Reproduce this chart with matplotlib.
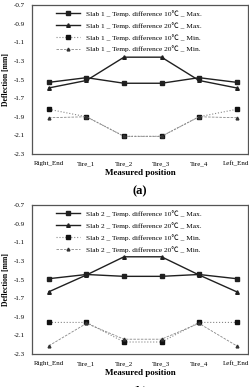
import matplotlib
matplotlib.use('Agg')
import matplotlib.pyplot as plt

plt.rcParams['font.family'] = ['Liberation Serif', 'Noto Sans CJK SC', 'DejaVu Serif']

positions = ['Right_End', 'Tire_1', 'Tire_2', 'Tire_3', 'Tire_4', 'Left_End']
yticks = [-0.7, -0.9, -1.1, -1.3, -1.5, -1.7, -1.9, -2.1, -2.3]

# Slab 1
slab1_10_max = [-1.53, -1.48, -1.54, -1.54, -1.48, -1.53]
slab1_20_max = [-1.59, -1.51, -1.26, -1.26, -1.51, -1.59]
slab1_10_min = [-1.82, -1.90, -2.11, -2.11, -1.90, -1.82]
slab1_20_min = [-1.91, -1.90, -2.11, -2.11, -1.90, -1.91]

# Slab 2
slab2_10_max = [-1.49, -1.445, -1.465, -1.465, -1.445, -1.49]
slab2_20_max = [-1.63, -1.45, -1.255, -1.255, -1.45, -1.63]
slab2_10_min = [-1.96, -1.96, -2.17, -2.17, -1.96, -1.96]
slab2_20_min = [-2.21, -1.97, -2.14, -2.14, -1.97, -2.21]

fig = plt.figure(figsize=(2.49, 3.87), dpi=100)


def drawPanel(ax, slab, s10max, s20max, s10min, s20min, tag):
    x = range(len(positions))
    ax.plot(x, s10max, color='#202020', lw=1.0, marker='s', ms=3.4,
            label=f'Slab {slab} _ Temp. difference 10\u2103 _ Max.')
    ax.plot(x, s20max, color='#202020', lw=1.0, marker='^', ms=2.6,
            label=f'Slab {slab} _ Temp. difference 20\u2103 _ Max.')
    ax.plot(x, s10min, color='#888888', lw=0.8, ls=':', marker='s', ms=3.2,
            mfc='#111111', mec='#111111',
            label=f'Slab {slab} _ Temp. difference 10\u2103 _ Min.')
    ax.plot(x, s20min, color='#888888', lw=0.6, ls=(0, (3, 1.5)), marker='^', ms=2.0,
            mfc='#333333', mec='#333333',
            label=f'Slab {slab} _ Temp. difference 20\u2103 _ Min.')
    ax.set_xlim(-0.45, 5.3)
    ax.set_ylim(-2.3, -0.7)
    ax.set_yticks(yticks)
    ax.set_yticklabels([f'{v:.1f}' for v in yticks])
    ax.set_xticks(list(x))
    ax.set_xticklabels(positions)
    ax.tick_params(length=0, labelsize=5.0, pad=5)
    for sp in ax.spines.values():
        sp.set_color('#555555')
        sp.set_linewidth(0.9)
    ax.set_ylabel('Deflection [mm]', fontsize=5.5, fontweight='bold', labelpad=3)
    ax.set_xlabel('Measured position', fontsize=6.5, fontweight='bold', labelpad=2)
    ax.legend(loc='upper left', bbox_to_anchor=(0.09, 1.0), frameon=False,
              fontsize=5.3, handlelength=3.2, labelspacing=0.7,
              handletextpad=0.8, borderaxespad=0.25)
    ax.text(0.5, -0.25, tag, transform=ax.transAxes, ha='center', va='center',
            fontsize=9, fontweight='bold')


ax1 = fig.add_axes([0.129, 0.602, 0.866, 0.385])
drawPanel(ax1, 1, slab1_10_max, slab1_20_max, slab1_10_min, slab1_20_min, '(a)')
ax2 = fig.add_axes([0.129, 0.085, 0.866, 0.385])
drawPanel(ax2, 2, slab2_10_max, slab2_20_max, slab2_10_min, slab2_20_min, '(b)')

fig.savefig('out.png', dpi=100)
